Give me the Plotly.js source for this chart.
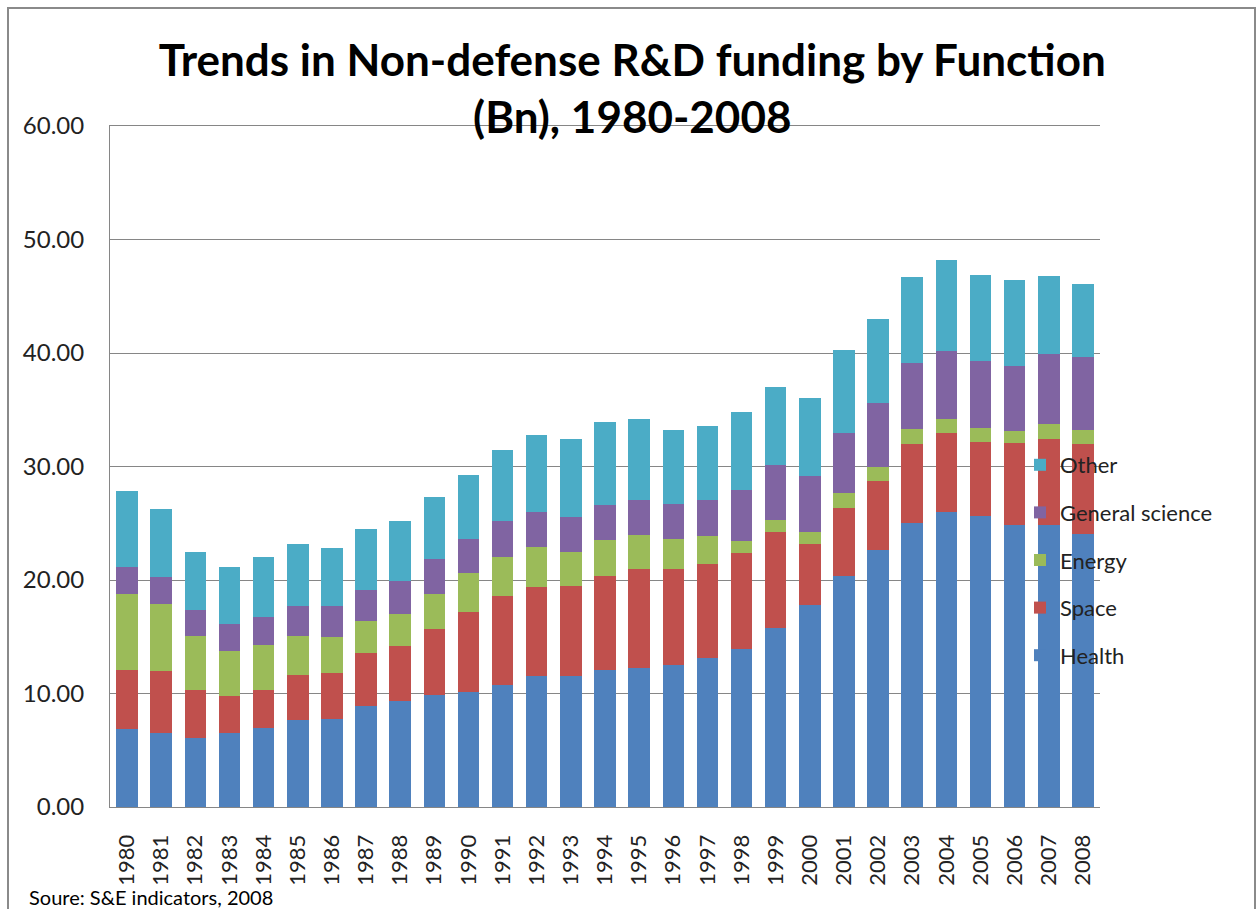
<!DOCTYPE html>
<html>
<head>
<meta charset="utf-8">
<script src="https://cdn.plot.ly/plotly-3.0.1.min.js"></script>
<style>html,body{margin:0;padding:0;background:#fff;}#chart{width:1257px;height:909px;}</style>
</head>
<body>
<div id="chart"></div>
<script>
const years = ["1980","1981","1982","1983","1984","1985","1986","1987","1988","1989","1990","1991","1992","1993","1994","1995","1996","1997","1998","1999","2000","2001","2002","2003","2004","2005","2006","2007","2008"];
const health = [6.90,6.51,6.12,6.51,6.98,7.69,7.76,8.86,9.37,9.84,10.12,10.78,11.57,11.57,12.04,12.24,12.47,13.14,13.92,15.76,17.80,20.39,22.63,24.98,26.00,25.65,24.86,24.86,24.08];
const space = [5.18,5.45,4.15,3.29,3.37,3.92,4.04,4.67,4.83,5.85,7.10,7.81,7.80,7.92,8.35,8.70,8.47,8.23,8.47,8.44,5.38,5.92,6.08,6.98,6.98,6.55,7.22,7.57,7.88];
const energy = [6.70,5.96,4.83,3.93,3.96,3.49,3.18,2.82,2.78,3.09,3.37,3.45,3.57,3.02,3.14,3.02,2.71,2.47,1.02,1.13,1.02,1.38,1.21,1.37,1.22,1.21,1.02,1.30,1.29];
const generalScience = [2.40,2.35,2.23,2.35,2.47,2.59,2.71,2.79,2.94,3.06,3.06,3.18,3.06,3.06,3.06,3.06,3.06,3.18,4.51,4.79,4.98,5.29,5.69,5.77,6.00,5.88,5.72,6.15,6.36];
const other = [6.62,5.97,5.18,5.10,5.26,5.49,5.17,5.33,5.30,5.49,5.57,6.27,6.75,6.82,7.29,7.18,6.51,6.51,6.86,6.90,6.82,7.29,7.37,7.61,7.96,7.61,7.57,6.94,6.51];
const seriesNames = ["Health","Space","Energy","General science","Other"];
const seriesColors = ["#4F81BD","#C0504D","#9BBB59","#8064A2","#4BACC6"];
const seriesValues = [health, space, energy, generalScience, other];

const FONT = "Lato, 'Open Sans', sans-serif";
const traces = seriesValues.map((vals, i) => ({
  type: "bar",
  name: seriesNames[i],
  legendgroup: "g" + i,
  legendrank: 1000 - i,
  x: years,
  y: vals,
  marker: {color: seriesColors[i], line: {width: 0}},
  hoverinfo: "x+y+name"
}));

// pixel -> paper helpers (plot area: x 110..1100, y 126..807)
const px = p => (p - 110) / 990;
const py = p => (807 - p) / 681;

const layout = {
  width: 1257,
  height: 909,
  margin: {l: 110, r: 157, t: 126, b: 102},
  paper_bgcolor: "#ffffff",
  plot_bgcolor: "#ffffff",
  barmode: "stack",
  bargap: 0.37,
  font: {family: FONT, color: "#222222"},
  title: {
    text: "<b>Trends in Non-defense R&D funding by Function<br>(Bn), 1980-2008</b>",
    font: {family: FONT, size: 44, color: "#000000"},
    xref: "container", x: 0.503, xanchor: "center",
    yref: "container", y: 1 - 76/909, yanchor: "top"
  },
  xaxis: {
    type: "category",
    tickangle: -90,
    tickfont: {family: FONT, size: 22, color: "#222222"},
    showline: true, mirror: true, linecolor: "#868686", linewidth: 1,
    ticks: "", showgrid: false,
    ticklabelstandoff: 18
  },
  yaxis: {
    range: [0, 60],
    dtick: 10,
    tickformat: ".2f",
    tickfont: {family: FONT, size: 24, color: "#222222"},
    showgrid: true, gridcolor: "#868686", gridwidth: 1,
    showline: true, linecolor: "#868686", linewidth: 1,
    ticks: "", zeroline: false,
    ticklabelstandoff: 20
  },
  legend: {
    traceorder: "grouped",
    tracegroupgap: 16,
    x: px(1020), xanchor: "left",
    y: py(444), yanchor: "top",
    bgcolor: "rgba(0,0,0,0)",
    font: {family: FONT, size: 22, color: "#222222"},
    itemclick: false
  },
  shapes: [{
    type: "rect", xref: "paper", yref: "paper",
    x0: px(8), x1: px(1255), y0: py(960), y1: py(8),
    line: {color: "#8a8a8a", width: 2}, fillcolor: "rgba(0,0,0,0)", layer: "below"
  }],
  annotations: [{
    text: "Soure: S&E indicators, 2008",
    xref: "paper", yref: "paper",
    x: px(27), xanchor: "left",
    y: py(897), yanchor: "middle",
    showarrow: false,
    font: {family: FONT, size: 20, color: "#000000"}
  }]
};

Plotly.newPlot("chart", traces, layout, {displayModeBar: false});
</script>
</body>
</html>
